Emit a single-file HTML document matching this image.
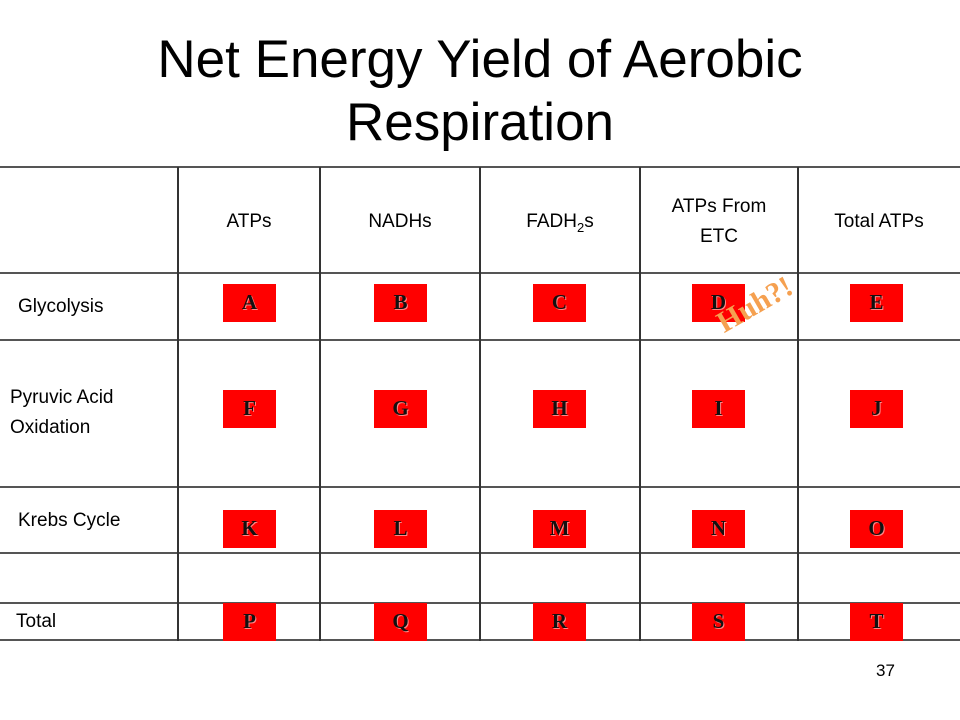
<!DOCTYPE html>
<html><head><meta charset="utf-8"><style>
body{margin:0;width:960px;height:720px;background:#fff;position:relative;overflow:hidden;font-family:"Liberation Sans",Arial,sans-serif;}
.a{position:absolute;}
.hl{position:absolute;left:0;width:960px;height:2px;background:#555;}
.vl{position:absolute;top:167px;height:474px;width:2px;background:#333;}
.t{position:absolute;font-size:19px;color:#000;text-align:center;line-height:30px;}
.box{position:absolute;width:53px;height:38px;background:#ff0000;font-family:"Liberation Serif",serif;font-weight:bold;font-size:21px;line-height:36px;text-align:center;color:#111;text-shadow:1px 1px 0 #f88;}
.lab{position:absolute;font-size:19px;line-height:30px;}
</style></head><body>
<div class="a" style="left:0;top:28px;width:960px;text-align:center;font-size:53px;line-height:63px;">Net Energy Yield of Aerobic<br>Respiration</div>

<div>
<div class="hl" style="top:166px"></div>
<div class="hl" style="top:272px"></div>
<div class="hl" style="top:339px"></div>
<div class="hl" style="top:486px"></div>
<div class="hl" style="top:552px"></div>
<div class="hl" style="top:602px"></div>
<div class="hl" style="top:639px"></div>
<div class="vl" style="left:177px"></div>
<div class="vl" style="left:319px"></div>
<div class="vl" style="left:479px"></div>
<div class="vl" style="left:639px"></div>
<div class="vl" style="left:797px"></div>
</div>

<div class="t" style="left:178px;width:142px;top:207px">ATPs</div>
<div class="t" style="left:320px;width:160px;top:207px">NADHs</div>
<div class="t" style="left:480px;width:160px;top:207px">FADH<sub style="font-size:13px">2</sub>s</div>
<div class="t" style="left:640px;width:158px;top:192px">ATPs From<br>ETC</div>
<div class="t" style="left:798px;width:162px;top:207px">Total ATPs</div>

<div class="lab" style="left:18px;top:292px">Glycolysis</div>
<div class="lab" style="left:10px;top:383px">Pyruvic Acid<br>Oxidation</div>
<div class="lab" style="left:18px;top:506px">Krebs Cycle</div>
<div class="lab" style="left:16px;top:607px">Total</div>

<div class="box" style="left:223px;top:284px">A</div>
<div class="box" style="left:374px;top:284px">B</div>
<div class="box" style="left:533px;top:284px">C</div>
<div class="box" style="left:692px;top:284px">D</div>
<div class="box" style="left:850px;top:284px">E</div>

<div class="box" style="left:223px;top:390px">F</div>
<div class="box" style="left:374px;top:390px">G</div>
<div class="box" style="left:533px;top:390px">H</div>
<div class="box" style="left:692px;top:390px">I</div>
<div class="box" style="left:850px;top:390px">J</div>

<div class="box" style="left:223px;top:510px">K</div>
<div class="box" style="left:374px;top:510px">L</div>
<div class="box" style="left:533px;top:510px">M</div>
<div class="box" style="left:692px;top:510px">N</div>
<div class="box" style="left:850px;top:510px">O</div>

<div class="box" style="left:223px;top:603px">P</div>
<div class="box" style="left:374px;top:603px">Q</div>
<div class="box" style="left:533px;top:603px">R</div>
<div class="box" style="left:692px;top:603px">S</div>
<div class="box" style="left:850px;top:603px">T</div>

<div class="a" style="left:700px;top:288px;width:110px;text-align:center;font-family:'Liberation Serif',serif;font-weight:bold;font-size:30px;color:#f5a050;transform:rotate(-30deg);transform-origin:50% 50%;">Huh?!</div>

<div class="a" style="left:876px;top:661px;font-size:17px;">37</div>
</body></html>
